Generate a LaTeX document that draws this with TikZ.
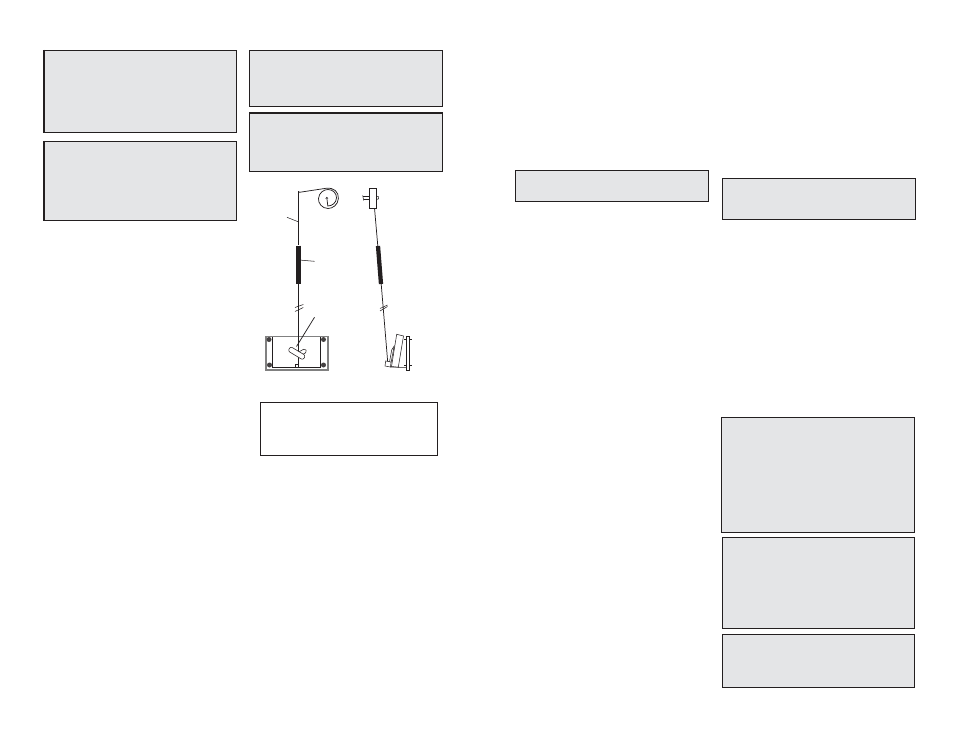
\documentclass[tikz,border=0pt]{standalone}
\definecolor{panel}{HTML}{E4E5E7}
\definecolor{ink}{HTML}{231F20}
\tikzset{
  panelbox/.style={draw=ink,fill=panel,line width=0.75pt},
  whitebox/.style={draw=ink,fill=white,line width=0.6pt},
  thin line/.style={draw=ink,line width=0.55pt},
  hair line/.style={draw=ink,line width=0.4pt},
  spring/.style={draw=ink,line width=3.2pt},
  boxedge/.style={draw=ink,line width=1.5pt}
}
\begin{document}
\begin{tikzpicture}[x=0.75pt,y=-0.75pt]
\useasboundingbox (0,0) rectangle (954,738);
\fill[white] (0,0) rectangle (954,738);
% panels
\draw[panelbox] (44,50.5) rectangle (236,132.5);
\draw[boxedge] (44,50) -- (44,133);
\draw[panelbox] (44,141.5) rectangle (236,220.5);
\draw[boxedge] (44,141) -- (44,221);
\draw[panelbox] (249.5,50.5) rectangle (442.5,106.5);
\draw[panelbox] (249.5,113.5) rectangle (442.5,171.5);
\draw[boxedge] (249,113) -- (443,113);
\draw[panelbox] (515.5,170.5) rectangle (708.5,201.5);
\draw[panelbox] (722.5,178.5) rectangle (915.5,219.5);
\draw[panelbox] (721.5,417.5) rectangle (914.5,532.5);
\draw[panelbox] (722.5,537.5) rectangle (914.5,628.5);
\draw[panelbox] (722.5,634.5) rectangle (914.5,687.5);
\draw[whitebox] (260.5,402.5) rectangle (437.5,455.5);
% left assembly: plate
\draw[draw=gray,line width=1.1pt,fill=white] (266,336.5) rectangle (328,370);
\draw[draw=ink,line width=0.7pt] (272,337) -- (272,367.5) -- (320.5,367.5) -- (320.5,337);
\fill[ink!85] (269,339.5) circle (2.5);
\fill[ink!85] (323.5,339.5) circle (2.5);
\fill[ink!85] (269.5,365) circle (2.5);
\fill[ink!85] (323.5,365) circle (2.5);
% left assembly: wire and coil
\draw[thin line] (298.5,191.5) -- (298.5,245);
\draw[thin line] (298.5,191.5) -- (299.5,192.3) -- (326,188.3) .. controls (334,187.3) and (338.8,192) .. (338.4,198.5)
  .. controls (338,205) and (332.5,208.5) .. (328,208.5)
  .. controls (322,208.5) and (318,203) .. (318.5,198.5)
  .. controls (319,192.5) and (324,189.5) .. (328,189.5)
  .. controls (333,189.5) and (336.8,193.5) .. (336.5,198)
  .. controls (336.2,203) and (332,206) .. (327.8,206) -- (326.8,197.5);
\draw[hair line] (325.7,198.8) -- (326.8,197.3) -- (328,198.6);
\draw[hair line] (287,217.3) -- (298,221.7);
\draw[spring] (298.5,245.7) -- (298.5,284);
\draw[hair line] (299,260) -- (314.5,261.3);
\draw[thin line] (298.5,284) -- (298.5,367);
\draw[hair line] (295,307.5) -- (303.3,304.5);
\draw[hair line] (295,311.5) -- (303.3,307.5);
\draw[thin line] (296.5,346.5) -- (314.5,317.3);
% pivot
\draw[hair line,fill=white,rounded corners=1.2] (297,353) -- (305,348.5) -- (307,352) -- (299,356.5) -- cycle;
\draw[hair line,fill=white,rounded corners=1.5] (290.5,346.5) -- (305.5,355.5) -- (303,360) -- (288,351) -- cycle;
\draw[hair line,fill=white] (295,364.5) rectangle (298.5,367.5);
% right assembly
\draw[thin line] (374.5,208) -- (377.8,246);
\draw[hair line] (363,196.7) -- (369.5,196.7);
\draw[hair line] (364,199.3) -- (369.5,199.3);
\draw[hair line] (362.7,195.5) -- (363.7,200.5);
\draw[hair line] (377,196.3) -- (378.6,196.8) -- (378.6,198.8) -- (377,199.3);
\draw[draw=ink,line width=0.9pt,fill=white] (369.3,188.5) rectangle (376.7,208.3);
\draw[spring] (378,246) -- (381,284);
\draw[thin line] (381.2,284) -- (387.7,362);
\draw[hair line] (380,311) -- (387.5,306.5);
\draw[hair line] (380,308.5) -- (387.5,305);
% right bracket
\draw[hair line,fill=white] (396.7,334.3) -- (403.5,336) -- (398.3,367.3) -- (391.5,366.5) -- cycle;
\draw[hair line] (391.7,350) -- (394.5,345.5);
\draw[hair line] (391.7,350) -- (389.5,362);
\draw[hair line] (394,347) -- (391,363);
\draw[hair line,fill=white] (385.7,361) -- (391,362) -- (390.5,367) -- (385,366) -- cycle;
\draw[hair line] (390.5,367) -- (407,367.5);
\draw[hair line] (404.3,339) -- (411.7,339);
\draw[hair line] (404.3,365.5) -- (412,365.5);
\draw[draw=ink,line width=0.85pt,fill=white] (406.2,336.7) rectangle (409.3,370.5);
\end{tikzpicture}
\end{document}
